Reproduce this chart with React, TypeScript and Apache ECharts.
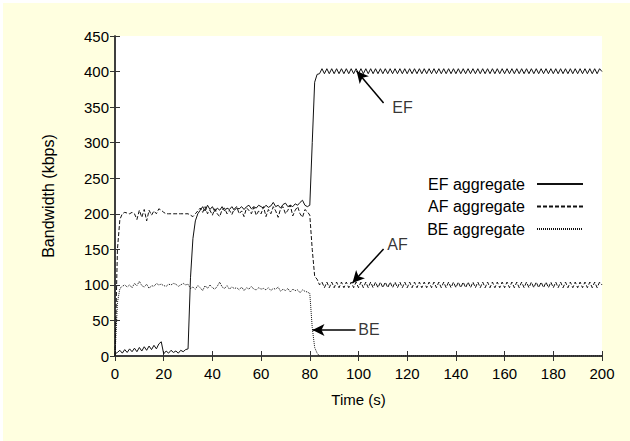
import React, { useEffect, useRef } from "react";
import * as echarts from "echarts";

// Sampling step of every series, seconds (value i is at time i * SAMPLE_STEP)
const SAMPLE_STEP = 1;

const X_TICKS = [0, 20, 40, 60, 80, 100, 120, 140, 160, 180, 200];
const Y_TICKS = [0, 50, 100, 150, 200, 250, 300, 350, 400, 450];

const SERIES_NAMES = ["EF aggregate", "AF aggregate", "BE aggregate"];

// EF aggregate, kbps, t = 0..200 s
const EF = [
  3, 5, 8, 4, 9, 5, 10, 6, 11, 6, 12, 7, 13, 8, 14, 9, 15, 10, 17, 20,
  3, 7, 4, 8, 5, 7, 4, 8, 6, 9, 10, 110, 165, 190, 200, 205, 210, 204, 212, 206,
  210, 203, 208, 205, 210, 204, 208, 206, 210, 205, 208, 207, 210, 206, 210, 212, 207, 210, 208, 212,
  210, 208, 212, 209, 211, 216, 210, 212, 208, 213, 215, 210, 212, 210, 214, 212, 216, 219, 212, 210,
  212, 300, 385, 396, 397, 404, 397, 404, 397, 404, 397, 404, 397, 404, 397, 404, 397, 404, 397, 404,
  397, 404, 397, 404, 397, 404, 397, 404, 397, 404, 397, 404, 397, 404, 397, 404, 397, 404, 397, 404,
  397, 404, 397, 404, 397, 404, 397, 404, 397, 404, 397, 404, 397, 404, 397, 404, 397, 404, 397, 404,
  397, 404, 397, 404, 397, 404, 397, 404, 397, 404, 397, 404, 397, 404, 397, 404, 397, 404, 397, 404,
  397, 404, 397, 404, 397, 404, 397, 404, 397, 404, 397, 404, 397, 404, 397, 404, 397, 404, 397, 404,
  397, 404, 397, 404, 397, 404, 397, 404, 397, 404, 397, 404, 397, 404, 397, 404, 397, 404, 397, 404,
  400,
];

// AF aggregate, kbps, t = 0..200 s
const AF = [
  0, 150, 192, 200, 202, 201, 200, 202, 200, 192, 205, 195, 206, 190, 205, 198, 204, 200, 207, 205,
  202, 200, 200, 200, 200, 200, 200, 200, 200, 200, 200, 198, 196, 200, 204, 208, 202, 210, 200, 205,
  198, 207, 200, 196, 206, 208, 200, 205, 199, 207, 210, 200, 204, 196, 208, 205, 200, 209, 198, 204,
  200, 210, 196, 206, 200, 210, 204, 195, 207, 210, 200, 205, 212, 197, 205, 210, 200, 195, 206, 203,
  198, 150, 112, 108, 100, 104, 96, 104, 96, 104, 96, 104, 96, 104, 96, 104, 96, 104, 96, 104,
  96, 104, 96, 104, 96, 104, 96, 104, 96, 104, 96, 104, 96, 104, 96, 104, 96, 104, 96, 104,
  96, 104, 96, 104, 96, 104, 96, 104, 96, 104, 96, 104, 96, 104, 96, 104, 96, 104, 96, 104,
  96, 104, 96, 104, 96, 104, 96, 104, 96, 104, 96, 104, 96, 104, 96, 104, 96, 104, 96, 104,
  96, 104, 96, 104, 96, 104, 96, 104, 96, 104, 96, 104, 96, 104, 96, 104, 96, 104, 96, 104,
  96, 104, 96, 104, 96, 104, 96, 104, 96, 104, 96, 104, 96, 104, 96, 104, 96, 104, 96, 104,
  100,
];

// BE aggregate, kbps, t = 0..200 s
const BE = [
  0, 75, 95, 98, 100, 97, 100, 96, 102, 99, 105, 99, 97, 101, 95, 99, 98, 102, 100, 101,
  99, 98, 101, 100, 102, 101, 98, 100, 102, 100, 101, 95, 97, 94, 99, 96, 92, 99, 95, 100,
  96, 94, 98, 104, 97, 95, 99, 94, 97, 95, 96, 93, 97, 92, 96, 94, 98, 94, 93, 96,
  94, 95, 93, 96, 92, 95, 94, 97, 91, 94, 92, 95, 90, 94, 92, 93, 89, 93, 91, 90,
  88, 40, 12, 4, 0, 0, 0, 0, 0, 0, 0, 0, 0, 0, 0, 0, 0, 0, 0, 0,
  0, 0, 0, 0, 0, 0, 0, 0, 0, 0, 0, 0, 0, 0, 0, 0, 0, 0, 0, 0,
  0, 0, 0, 0, 0, 0, 0, 0, 0, 0, 0, 0, 0, 0, 0, 0, 0, 0, 0, 0,
  0, 0, 0, 0, 0, 0, 0, 0, 0, 0, 0, 0, 0, 0, 0, 0, 0, 0, 0, 0,
  0, 0, 0, 0, 0, 0, 0, 0, 0, 0, 0, 0, 0, 0, 0, 0, 0, 0, 0, 0,
  0, 0, 0, 0, 0, 0, 0, 0, 0, 0, 0, 0, 0, 0, 0, 0, 0, 0, 0, 0,
  0,
];

// Annotation labels: [time, kbps, text]
const NOTE_LABELS: [number, number, string][] = [
  [118.1, 349.0, "EF"],
  [116.0, 156.1, "AF"],
  [104.3, 36.6, "BE"],
];
// Annotation arrows: [tailTime, tailKbps, tipTime, tipKbps]
const NOTE_ARROWS: [number, number, number, number][] = [
  [110.3, 355.8, 99.2, 400.8],
  [110.3, 150.5, 97.5, 102.7],
  [98.8, 36.6, 81.1, 36.6],
];

const FONT = "'Liberation Sans', Arial, sans-serif";
const AXIS_COLOR = "#333";
const LINE_COLOR = "#111";

function toPairs(values: number[]) {
  return values.map((v, i) => [i * SAMPLE_STEP, v]);
}

export default function App() {
  const ref = useRef<HTMLDivElement>(null);

  useEffect(() => {
    if (!ref.current) return;
    const chart = echarts.init(ref.current, null, { renderer: "svg" });

    const axisCommon = {
      axisLine: { show: true, lineStyle: { color: AXIS_COLOR, width: 1.5 } },
      axisTick: { show: true, inside: true, length: 5, lineStyle: { color: AXIS_COLOR, width: 1 } },
      splitLine: { show: false },
    };

    const lineTypes: any[] = ["solid", [4, 2], [1, 1]];
    const seriesData = [EF, AF, BE];

    const series: any[] = SERIES_NAMES.map((name, i) => ({
      name,
      type: "line",
      data: toPairs(seriesData[i]),
      showSymbol: false,
      symbol: "none",
      z: 3 + i,
      lineStyle: { color: LINE_COLOR, width: 1, type: lineTypes[i] },
      itemStyle: { color: LINE_COLOR },
    }));

    series[0].markLine = {
      silent: true,
      symbol: ["none", "arrow"],
      symbolSize: [9, 12],
      lineStyle: { color: "#000", width: 1.5, type: "solid" },
      label: { show: false },
      data: NOTE_ARROWS.map((a) => [{ coord: [a[0], a[1]] }, { coord: [a[2], a[3]] }]),
    };

    series.push({
      name: "notes",
      type: "scatter",
      symbolSize: 0,
      data: NOTE_LABELS.map((n) => [n[0], n[1], n[2]]),
      label: {
        show: true,
        position: "inside",
        formatter: (p: any) => p.value[2],
        color: "#000",
        fontSize: 16,
        fontFamily: FONT,
      },
      silent: true,
    });

    chart.setOption({
      animation: false,
      backgroundColor: "#FFFFE0",
      textStyle: { fontFamily: FONT },
      grid: {
        left: 112,
        right: 28,
        top: 33,
        bottom: 85,
        show: true,
        backgroundColor: "#fff",
        borderWidth: 0,
      },
      legend: {
        data: SERIES_NAMES,
        orient: "vertical",
        align: "right",
        right: 41,
        top: 168,
        itemWidth: 46,
        itemHeight: 12,
        itemGap: 6.5,
        itemStyle: { opacity: 0 },
        textStyle: { fontSize: 16, color: "#000", fontFamily: FONT, padding: [0, 7, 0, 0] },
      },
      xAxis: [
        {
          type: "value",
          position: "bottom",
          min: X_TICKS[0],
          max: X_TICKS[X_TICKS.length - 1],
          interval: X_TICKS[1] - X_TICKS[0],
          ...axisCommon,
          axisLabel: { color: "#000", fontSize: 15, fontFamily: FONT, margin: 10 },
          name: "Time (s)",
          nameLocation: "middle",
          nameGap: 36,
          nameTextStyle: { color: "#000", fontSize: 15, fontFamily: FONT },
        },
        {
          type: "value",
          position: "top",
          min: X_TICKS[0],
          max: X_TICKS[X_TICKS.length - 1],
          interval: X_TICKS[1] - X_TICKS[0],
          ...axisCommon,
          axisLabel: { show: false },
        },
      ],
      yAxis: [
        {
          type: "value",
          position: "left",
          min: Y_TICKS[0],
          max: Y_TICKS[Y_TICKS.length - 1],
          interval: Y_TICKS[1] - Y_TICKS[0],
          ...axisCommon,
          axisLabel: { color: "#000", fontSize: 15, fontFamily: FONT, margin: 6 },
          name: "Bandwidth (kbps)",
          nameLocation: "middle",
          nameGap: 59,
          nameTextStyle: { color: "#000", fontSize: 16, fontFamily: FONT },
        },
        {
          type: "value",
          position: "right",
          min: Y_TICKS[0],
          max: Y_TICKS[Y_TICKS.length - 1],
          interval: Y_TICKS[1] - Y_TICKS[0],
          ...axisCommon,
          axisLabel: { show: false },
        },
      ],
      series,
    });

    return () => chart.dispose();
  }, []);

  return (
    <div style={{ position: "fixed", left: 0, top: 0, width: 630, height: 441, background: "#fff" }}>
      <div ref={ref} style={{ position: "absolute", left: 3, top: 3, width: 627, height: 438 }} />
    </div>
  );
}
